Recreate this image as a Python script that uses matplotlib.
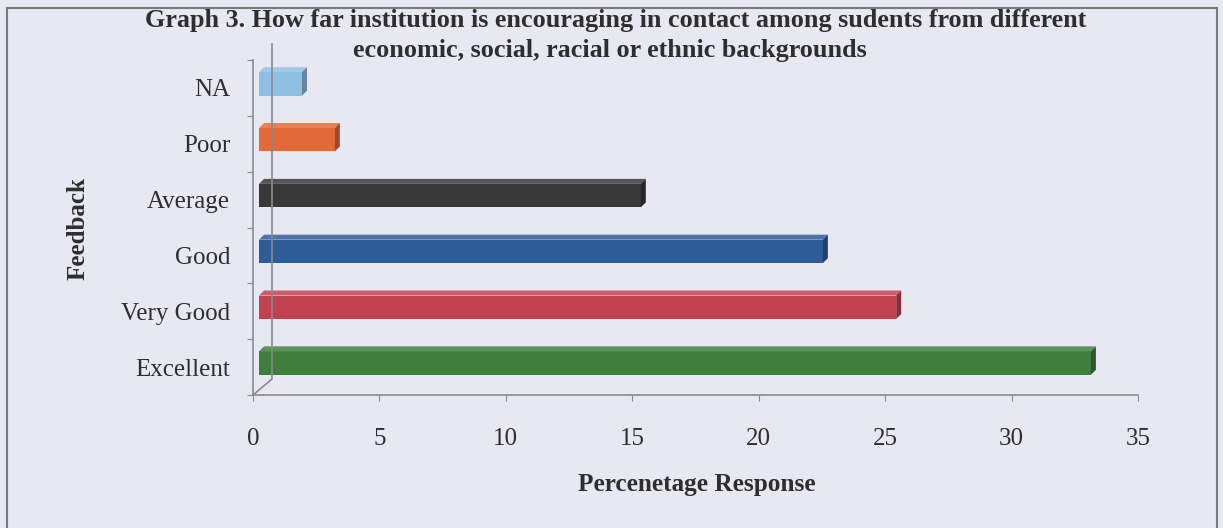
import matplotlib
matplotlib.use('Agg')
import matplotlib.pyplot as plt
from matplotlib import transforms
from matplotlib.patches import Polygon, Rectangle
import matplotlib.colors as mcolors
import numpy as np

# data (bottom to top)
categories = ['Excellent', 'Very Good', 'Good', 'Average', 'Poor', 'NA']
values = [32.9, 25.2, 22.3, 15.1, 3.0, 1.7]
colors = ['#3f7e3e', '#c1424f', '#2e5c98', '#383838', '#e2693a', '#8fc0e4']
xticks = [0, 5, 10, 15, 20, 25, 30, 35]

title1 = 'Graph 3. How far institution is encouraging in contact among sudents from different'
title2 = 'economic, social, racial or ethnic backgrounds'

bg = '#e8e8f2'
txt = '#2e2e2e'
axcol = '#8a8a8a'
plt.rcParams['font.family'] = ['Liberation Serif', 'DejaVu Serif']

W, H = 1223, 528
fig = plt.figure(figsize=(W / 100, H / 100), dpi=100, facecolor=bg)
# front plane of the 3d plot
ax = fig.add_axes([253 / W, 1 - 395 / H, (1138 - 253) / W, (395 - 60) / H])
ax.set_facecolor('none')
ax.set_xlim(0, 35)
ax.set_ylim(-0.5, 5.5)

for s in ['top', 'right']:
    ax.spines[s].set_visible(False)
for s in ['left', 'bottom']:
    ax.spines[s].set_color(axcol)
    ax.spines[s].set_linewidth(1.2)

ax.set_xticks(xticks)
ax.set_xticklabels([str(t) for t in xticks])
ax.tick_params(axis='x', length=4, color=axcol, labelsize=18, labelcolor=txt, pad=20)
ax.set_yticks(np.arange(-0.5, 6, 1))
ax.set_yticklabels([])
ax.set_yticks(range(len(categories)), minor=True)
ax.set_yticklabels(categories, minor=True)
ax.tick_params(axis='y', which='major', length=4, color=axcol)
ax.tick_params(axis='y', which='minor', length=0, labelsize=18, labelcolor=txt, pad=16.5)

# depth offsets in pixels
offx, offy = 6, 4   # front face of the bars
d = 5               # bar depth
wall = 19           # back wall

ident = transforms.IdentityTransform()
p0 = ax.transData.transform((0, -0.5))
p1 = ax.transData.transform((0, 5.5))
fig.add_artist(plt.Line2D([p0[0], p0[0] + wall, p1[0] + wall],
                          [p0[1], p0[1] + wall - 3, p1[1] + wall - 3],
                          transform=ident, color=axcol, lw=1.2))

front = transforms.offset_copy(ax.transData, fig=fig, x=offx, y=offy, units='dots')
h = 0.42
for i, (v, c) in enumerate(zip(values, colors)):
    rgb = np.array(mcolors.to_rgb(c))
    light = tuple(rgb + (1 - rgb) * 0.15)
    dark = tuple(rgb * 0.7)
    x0, y0 = ax.transData.transform((0, i - h / 2)) + (offx, offy)
    x1, y1 = ax.transData.transform((v, i + h / 2)) + (offx, offy)
    top = [(x0, y1), (x1, y1), (x1 + d, y1 + d), (x0 + d, y1 + d)]
    side = [(x1, y0), (x1 + d, y0 + d), (x1 + d, y1 + d), (x1, y1)]
    fig.add_artist(Polygon(top, closed=True, transform=ident, facecolor=light, edgecolor='none'))
    fig.add_artist(Polygon(side, closed=True, transform=ident, facecolor=dark, edgecolor='none'))
    ax.barh(i, v, height=h, color=c, transform=front, zorder=3)

# titles and labels
fig.text(616 / W, 1 - 20 / H, title1, ha='center', va='center', fontsize=18.8,
         fontweight='bold', color=txt)
fig.text(610 / W, 1 - 50 / H, title2, ha='center', va='center', fontsize=18.8,
         fontweight='bold', color=txt)
fig.text(78 / W, 1 - 229 / H, 'Feedback', rotation=90, ha='center', va='center',
         fontsize=18, fontweight='bold', color=txt)
fig.text(697 / W, 1 - 485 / H, 'Percenetage Response', ha='center', va='center',
         fontsize=18.2, fontweight='bold', color=txt)

# outer frame
fig.add_artist(Rectangle((7 / W, -0.05), 1210 / W, 1.05 - 8 / H, transform=fig.transFigure,
                         facecolor='none', edgecolor='#7a7a7a', lw=1.5))

fig.savefig('out.png', dpi=100, facecolor=bg)
